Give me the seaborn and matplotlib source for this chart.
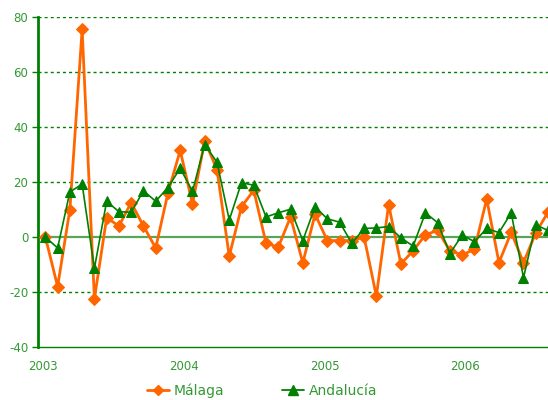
import numpy as np
import pandas as pd
import matplotlib
matplotlib.use("Agg")
import matplotlib.pyplot as plt
import seaborn as sns
from matplotlib.lines import Line2D

# Monthly data, Jan 2003 .. Jun 2006 (index 0..41)
malaga = [0, -18, 10, 75.5, -22.5, 7, 4, 12.5, 4, -4, 16, 31.5,
          12, 35, 24.5, -7, 11, 17, -2.3, -3.7, 7.3, -9.4,
          8.3, -1.3, -1.3, -1.3, 0, -21.5, 11.8, -9.8, -5, 0.8,
          2.4, -5, -6.5, -4.5, 13.8, -9.3, 1.7, -9.3, 1.5, 9]
andalucia = [0, -4, 16.4, 19.2, -11.4, 13, 9.2, 9, 16.8, 13, 18, 25,
             16.6, 33.6, 27.2, 6.2, 19.8, 18.8, 7.3, 8.8, 10.1, -1.3,
             11, 6.6, 5.4, -2.3, 3.1, 3.3, 3.8, -0.3, -3.3, 8.8,
             5.2, -6, 0.7, -1.7, 3.1, 1.6, 8.8, -14.8, 4.4, 2.4]
series_names = ["Málaga", "Andalucía"]
year_labels = ["2003", "2004", "2005", "2006"]
year_tick_pos = [-0.16, 11.3, 22.8, 34.25]
y_ticks = [-40, -20, 0, 20, 40, 60, 80]

months = np.arange(len(malaga))
df = pd.DataFrame({
    "mes": np.concatenate([months, months]),
    "valor": malaga + andalucia,
    "serie": [series_names[0]] * len(malaga) + [series_names[1]] * len(andalucia),
})

sns.set_style("white")
plt.rcParams["font.family"] = ["DejaVu Sans"]

ORANGE = "#FF6600"
GREEN = "#008000"
TXT = "#339933"

fig = plt.figure(figsize=(5.48, 4.00), dpi=100)
ax = fig.add_axes([38 / 548, 1 - 347 / 400, 1 - 38 / 548, (347 - 17) / 400])

# grid lines
for yv in y_ticks:
    if yv == 0:
        ax.axhline(0, color="#5aa55a", lw=1.6, zorder=1)
    elif yv == -40:
        continue
    else:
        ax.axhline(yv, color=GREEN, lw=1.0, ls=(0, (2.2, 2.2)), zorder=1)

sns.lineplot(data=df[df.serie == series_names[0]], x="mes", y="valor", ax=ax,
             color=ORANGE, lw=2.0, marker="D", markersize=6.3,
             markeredgecolor=ORANGE, legend=False, zorder=3)
sns.lineplot(data=df[df.serie == series_names[1]], x="mes", y="valor", ax=ax,
             color=GREEN, lw=1.2, marker="^", markersize=7.8,
             markeredgecolor=GREEN, legend=False, zorder=4)

ax.set_xlim(-0.6, len(malaga) - 1)
ax.set_ylim(-40, 80)
ax.set_yticks(y_ticks)
ax.set_yticklabels([str(v) for v in y_ticks])
ax.set_xticks(year_tick_pos)
ax.set_xticklabels(year_labels)
ax.set_xlabel("")
ax.set_ylabel("")

for s in ["top", "right"]:
    ax.spines[s].set_visible(False)
ax.spines["left"].set_color(GREEN)
ax.spines["left"].set_linewidth(2.0)
ax.spines["bottom"].set_color(GREEN)
ax.spines["bottom"].set_linewidth(1.0)

ax.tick_params(axis="y", colors=GREEN, labelcolor=TXT, length=4, width=1,
               labelsize=8.5, pad=3, left=True)
ax.tick_params(axis="x", length=0, labelcolor=TXT, labelsize=8.5, pad=9)

handles = [
    Line2D([0], [0], color=ORANGE, lw=2, marker="D", markersize=5, markeredgecolor=ORANGE),
    Line2D([0], [0], color=GREEN, lw=1.3, marker="^", markersize=7, markeredgecolor=GREEN),
]
leg = fig.legend(handles, series_names, loc="center", bbox_to_anchor=(262 / 548, 1 - 391 / 400),
                 ncol=2, frameon=False, fontsize=10, handlelength=1.6, handletextpad=0.3,
                 columnspacing=4.2, labelcolor=TXT)

fig.savefig("out.png", dpi=100)
